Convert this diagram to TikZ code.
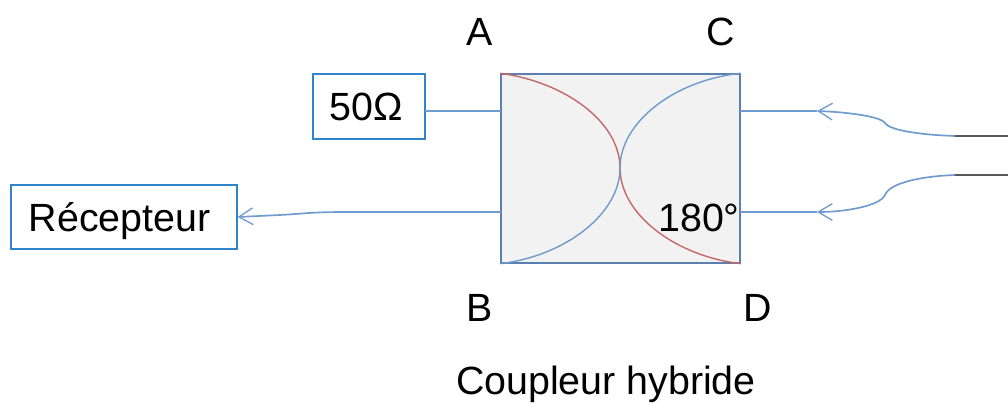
\documentclass[tikz,border=0pt]{standalone}
\usepackage{fontspec}
\setmainfont{Liberation Sans}
\usetikzlibrary{arrows.meta}
\definecolor{wire}{HTML}{6F9BCE}
\definecolor{frame}{HTML}{5B80B0}
\definecolor{boxline}{HTML}{2F84CC}
\definecolor{arcred}{HTML}{C4686A}
\definecolor{shade}{HTML}{F2F2F2}
\tikzset{
    label/.style={font=\fontsize{22.4}{26}\selectfont, inner sep=0pt},
    portbox/.style={draw=boxline, line width=0.7pt, fill=white, inner sep=0pt, text height=16pt, text depth=0pt, label},
    wireline/.style={draw=wire, line width=0.95pt},
    wirearrow/.style={wireline, -{Straight Barb[length=8pt, width=9.5pt, line width=0.75pt]}},
    leadline/.style={draw=black!65, line width=1pt}
}

\begin{document}
\begin{tikzpicture}[x=0.02cm, y=-0.02cm]
    \useasboundingbox (0,0) rectangle (1008,403);

    \node[draw=frame, fill=shade, line width=0.8pt, minimum width=4.78cm, minimum height=3.78cm, inner sep=0pt] (hybride) at (620.5,168.5) {};
    \node[portbox, minimum width=2.24cm, minimum height=1.3cm] (charge) at (369,106.5) {50Ω\hspace*{3pt}};
    \node[portbox, minimum width=4.52cm, minimum height=1.28cm] (recepteur) at (124,217) {Récepteur\hspace*{5pt}};

    \coordinate (portA) at (501,111);
    \coordinate (portB) at (501,212);
    \coordinate (portC) at (740,111);
    \coordinate (portD) at (740,212);
    \coordinate (chargeOut) at (425,111);
    \coordinate (flecheC) at (817,111);
    \coordinate (flecheD) at (817,212);
    \coordinate (entreeC) at (955,136);
    \coordinate (entreeD) at (955,175);
    \coordinate (finC) at (1008,136);
    \coordinate (finD) at (1008,175);
    \coordinate (milieu) at (620,168);

    % arcs
    \draw[draw=arcred, line width=0.8pt] (hybride.north west) .. controls (565,82) and (620,122) .. (milieu) .. controls (620,214) and (675,256) .. (hybride.south east);
    \draw[draw=wire, line width=0.8pt] (hybride.north east) .. controls (675,80) and (620,122) .. (milieu) .. controls (620,214) and (565,256) .. (hybride.south west);

    % liaisons
    \draw[wireline] (chargeOut) -- (portA);
    \draw[wirearrow] (portB) -- (345,212) .. controls (310,212) and (300,214) .. (280,215) -- (recepteur.east);
    \draw[wireline] (portC) -- (flecheC);
    \draw[wireline] (portD) -- (flecheD);
    \draw[wirearrow] (entreeC) .. controls (925,135) and (890,131) .. (885,123) .. controls (880,116) and (845,112) .. (flecheC);
    \draw[wirearrow] (entreeD) .. controls (925,176) and (890,182) .. (885,195) .. controls (880,206) and (845,212) .. (flecheD);
    \draw[leadline] (entreeC) -- (finC);
    \draw[leadline] (entreeD) -- (finD);

    \node[label] (labelA) at (480,32) {A};
    \node[label] (labelC) at (721,32) {C};
    \node[label] (labelB) at (480,308) {B};
    \node[label] (labelD) at (758,308) {D};
    \node[label] (phase) at (699,218) {180°};
    \node[label] (titre) at (606,384) {Coupleur hybride};
\end{tikzpicture}
\end{document}
